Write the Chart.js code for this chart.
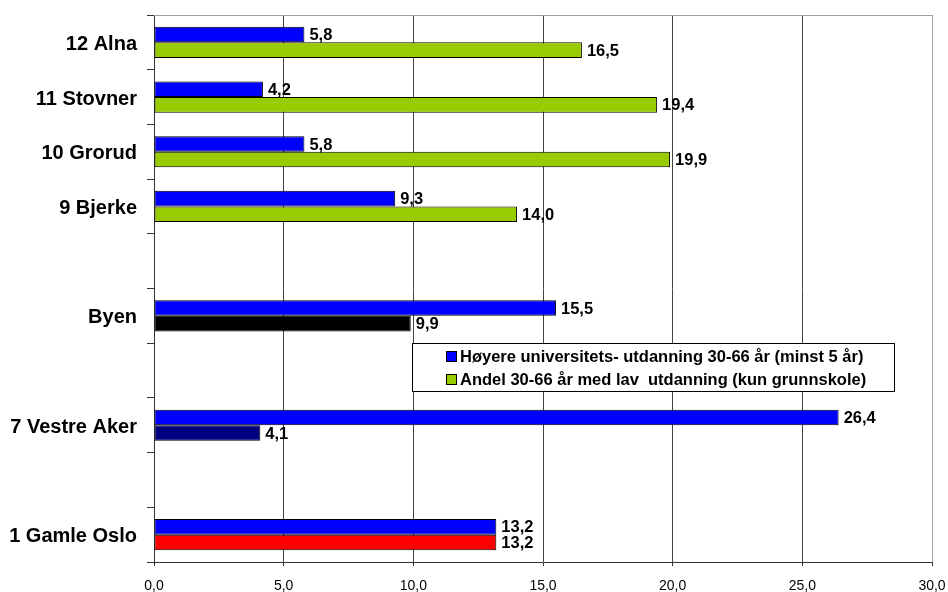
<!DOCTYPE html>
<html>
<head>
<meta charset="utf-8">
<script src="https://cdn.jsdelivr.net/npm/chart.js@4"></script>
<style>
  html, body { margin: 0; padding: 0; background: #fff; }
  #wrap { width: 948px; height: 592px; }
</style>
</head>
<body>
<div id="wrap"><canvas id="chart" width="948" height="592"></canvas></div>
<script>
var categories = ['12 Alna', '11 Stovner', '10 Grorud', '9 Bjerke', '', 'Byen', '', '7 Vestre Aker', '', '1 Gamle Oslo'];
var hoyereUtd = [5.8, 4.2, 5.8, 9.3, null, 15.5, null, 26.4, null, 13.2];
var lavUtd = [16.5, 19.4, 19.9, 14.0, null, 9.9, null, 4.1, null, 13.2];
var lavColors = ['#99CC00', '#99CC00', '#99CC00', '#99CC00', '#99CC00', '#000000', '#99CC00', '#000080', '#99CC00', '#FF0000'];
var seriesNames = ['Høyere universitets- utdanning 30-66 år (minst 5 år)', 'Andel 30-66 år med lav  utdanning (kun grunnskole)'];
var seriesColors = ['#0000FF', '#99CC00'];
var xTicks = [0, 5, 10, 15, 20, 25, 30];

var FONT = "'Liberation Sans', Arial, sans-serif";

function fmt(v) {
    return v.toFixed(1).replace('.', ',');
}

// no label overflow padding, keep plot area where we put it
function noPad(scale) {
    scale.paddingLeft = 0;
    scale.paddingRight = 0;
    scale.paddingTop = 0;
    scale.paddingBottom = 0;
}

// value labels right of each bar
var valueLabels = {
    id: 'valueLabels',
    afterDatasetsDraw: function(chart) {
        var ctx = chart.ctx;
        ctx.save();
        ctx.font = 'bold 16.5px ' + FONT;
        ctx.fillStyle = '#000';
        ctx.textAlign = 'left';
        ctx.textBaseline = 'middle';
        chart.data.datasets.forEach(function(ds, i) {
            chart.getDatasetMeta(i).data.forEach(function(bar, j) {
                if (ds.data[j] == null) return;
                ctx.fillText(fmt(ds.data[j]), bar.x + 5, bar.y + 1);
            });
        });
        ctx.restore();
    }
};

// plot frame (top + right in light gray)
var frame = {
    id: 'frame',
    beforeDatasetsDraw: function(chart) {
        var a = chart.chartArea, ctx = chart.ctx;
        ctx.save();
        ctx.strokeStyle = '#A0A0A0';
        ctx.lineWidth = 1;
        ctx.beginPath();
        ctx.moveTo(a.left, a.top + 0.5);
        ctx.lineTo(a.right + 0.5, a.top + 0.5);
        ctx.lineTo(a.right + 0.5, a.bottom);
        ctx.stroke();
        ctx.restore();
    }
};

// boxed legend inside the plot
var boxLegend = {
    id: 'boxLegend',
    afterDraw: function(chart) {
        var ctx = chart.ctx;
        var bx = 412, by = 343, bw = 482, bh = 48;
        ctx.save();
        ctx.fillStyle = '#fff';
        ctx.fillRect(bx, by, bw, bh);
        ctx.strokeStyle = '#000';
        ctx.lineWidth = 1;
        ctx.strokeRect(bx + 0.5, by + 0.5, bw, bh);
        ctx.font = 'bold 16.5px ' + FONT;
        ctx.textBaseline = 'middle';
        ctx.textAlign = 'left';
        seriesNames.forEach(function(name, i) {
            var cy = by + 13 + i * 23;
            ctx.fillStyle = seriesColors[i];
            ctx.fillRect(446, cy - 5, 11, 11);
            ctx.strokeStyle = '#000';
            ctx.strokeRect(446.5, cy - 4.5, 10, 10);
            ctx.fillStyle = '#000';
            ctx.fillText(name, 460, cy + 1);
        });
        ctx.restore();
    }
};

var ctx = document.getElementById('chart').getContext('2d');

var chart = new Chart(ctx, {
    type: 'bar',
    data: {
        labels: categories,
        datasets: [
            {
                label: seriesNames[0],
                data: hoyereUtd,
                backgroundColor: seriesColors[0],
                borderColor: '#000',
                borderWidth: 1,
                borderSkipped: false
            },
            {
                label: seriesNames[1],
                data: lavUtd,
                backgroundColor: lavColors,
                borderColor: '#000',
                borderWidth: 1,
                borderSkipped: false
            }
        ]
    },
    options: {
        indexAxis: 'y',
        responsive: false,
        animation: false,
        devicePixelRatio: 1,
        categoryPercentage: 0.57,
        barPercentage: 1.0,
        layout: { padding: { top: 15, right: 16, left: 0, bottom: 0 } },
        plugins: {
            legend: { display: false },
            tooltip: { enabled: false }
        },
        scales: {
            x: {
                min: 0,
                max: 30,
                afterBuildTicks: function(scale) {
                    scale.ticks = xTicks.map(function(v) { return { value: v }; });
                },
                afterFit: function(scale) { scale.height = 30; noPad(scale); },
                grid: {
                    color: function(c) {
                        if (c.tick && c.tick.value === 30) return '#A0A0A0';
                        return '#444444';
                    },
                    lineWidth: 1,
                    tickLength: 4,
                    tickColor: '#333333'
                },
                border: { color: '#333333', width: 1 },
                ticks: {
                    padding: 12,
                    color: '#000',
                    font: { family: FONT, size: 14 },
                    callback: function(v) { return fmt(v); }
                }
            },
            y: {
                afterFit: function(scale) { scale.width = 154; noPad(scale); },
                grid: {
                    drawOnChartArea: false,
                    drawTicks: true,
                    tickLength: 7,
                    tickColor: '#333333'
                },
                border: { color: '#333333', width: 1 },
                ticks: {
                    padding: 10,
                    labelOffset: 2,
                    color: '#000',
                    font: { family: FONT, size: 20, weight: 'bold' }
                }
            }
        }
    },
    plugins: [frame, valueLabels, boxLegend]
});
</script>
</body>
</html>
